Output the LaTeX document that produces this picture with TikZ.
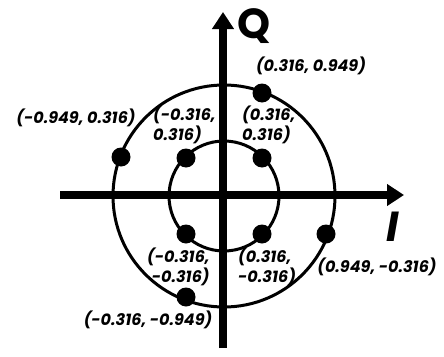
\documentclass[tikz,border=0pt]{standalone}
\usepackage{fontspec}
\setmainfont{Poppins}
\usetikzlibrary{arrows.meta}
\tikzset{
  axis/.style={line width=7.5pt,-{Triangle[length=17pt,width=21pt]}},
  ring/.style={draw,circle,line width=3pt,inner sep=0pt},
  dot/.style={fill=black,circle,inner sep=0pt,minimum size=19pt},
  lbl/.style={font=\fontsize{16}{20}\selectfont\bfseries\itshape,inner sep=0pt,align=left},
  axlbl/.style={font=\fontsize{42}{42}\selectfont\bfseries,inner sep=0pt}
}
\begin{document}
\begin{tikzpicture}[x=1pt,y=-1pt]
\useasboundingbox (0,0) rectangle (444,356);
\coordinate (c) at (224,196);
\node[ring,minimum size=222pt] (outer) at (c) {};
\node[ring,minimum size=110pt] (inner) at (c) {};
\coordinate (xs) at (60,195);
\coordinate (xe) at (404,195);
\coordinate (ys) at (223,348);
\coordinate (ye) at (223,12);
\draw[axis] (xs) -- (xe);
\draw[axis] (ys) -- (ye);
\node[axlbl] (Q) at (254,26) {Q};
\node[axlbl,font=\fontsize{42}{42}\selectfont\bfseries\itshape] (I) at (393,227) {I};
% inner dots
\node[dot] (a1) at (186,158) {};
\node[dot] (a2) at (262,158) {};
\node[dot] (a3) at (186,234) {};
\node[dot] (a4) at (262,234) {};
% outer dots
\node[dot] (b1) at (262,93) {};
\node[dot] (b2) at (121,157) {};
\node[dot] (b3) at (326,234) {};
\node[dot] (b4) at (186,297) {};
% labels
\node[lbl] (l1) at (311,66) {(0.316, 0.949)};
\node[lbl] (l2) at (76,118) {(-0.949, 0.316)};
\node[lbl,anchor=west] (l3) at (153,125) {(-0.316,\\0.316)};
\node[lbl,anchor=west] (l4) at (242,125) {(0.316,\\0.316)};
\node[lbl,anchor=west,align=right] (l5) at (147,267) {(-0.316,\\-0.316)};
\node[lbl,anchor=west] (l6) at (238,267) {(0.316,\\-0.316)};
\node[lbl] (l7) at (377,267) {(0.949, -0.316)};
\node[lbl] (l8) at (148,320) {(-0.316, -0.949)};
\end{tikzpicture}
\end{document}
